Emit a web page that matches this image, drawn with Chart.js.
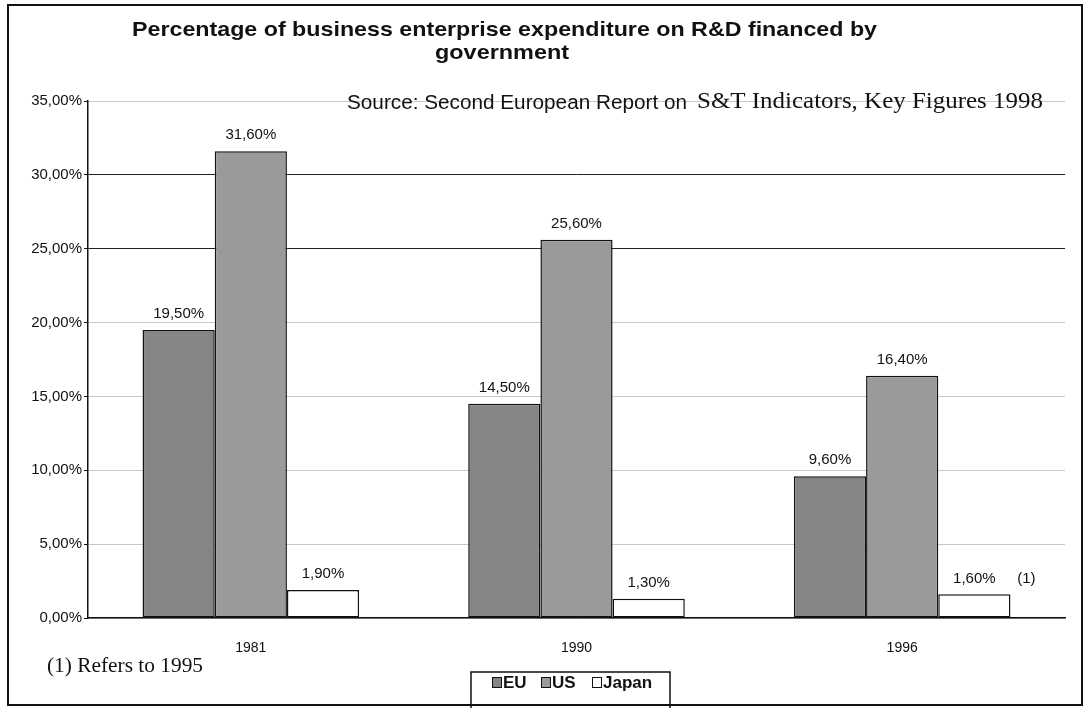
<!DOCTYPE html>
<html>
<head>
<meta charset="utf-8">
<script src="https://cdn.jsdelivr.net/npm/chart.js@4.4.0/dist/chart.umd.min.js"></script>
<style>
  html, body { margin: 0; padding: 0; background: #fff; }
  canvas { display: block; }
</style>
</head>
<body>
<canvas id="chart" width="1087" height="708"></canvas>
<script>
const CATEGORIES = ["1981", "1990", "1996"];
const EU = [19.5, 14.5, 9.6];
const US = [31.6, 25.6, 16.4];
const JAPAN = [1.9, 1.3, 1.6];
const Y_MAX = 35;
const Y_STEP = 5;

const TITLE_LINES = [
  "Percentage of business enterprise expenditure on R&D financed by",
  "government"
];
const SOURCE_SANS = "Source: Second European Report on";
const SOURCE_SERIF = "S&T Indicators, Key Figures 1998";
const FOOTNOTE = "(1) Refers to 1995";
const NOTE_MARK = "(1)";

const SANS = "'Liberation Sans', Arial, sans-serif";
const SERIF = "'Liberation Serif', 'Times New Roman', serif";

const fmt = v => v.toFixed(2).replace(".", ",") + "%";

// draw text squeezed/stretched to a given width, left aligned at x
function fitText(ctx, text, x, y, width) {
  const w = ctx.measureText(text).width;
  ctx.save();
  ctx.translate(x, y);
  ctx.scale(width / w, 1);
  ctx.textAlign = "left";
  ctx.fillText(text, 0, 0);
  ctx.restore();
}

const decor = {
  id: "decor",
  beforeDraw(chart) {
    const ctx = chart.ctx;
    ctx.save();
    ctx.fillStyle = "#fff";
    ctx.fillRect(0, 0, chart.width, chart.height);
    ctx.restore();
  },
  afterDraw(chart) {
    const ctx = chart.ctx;
    ctx.save();

    // outer frame
    ctx.strokeStyle = "#111";
    ctx.lineWidth = 2;
    ctx.strokeRect(8, 5, 1074, 700);

    // title
    ctx.fillStyle = "#111";
    ctx.textBaseline = "middle";
    ctx.font = "bold 21px " + SANS;
    fitText(ctx, TITLE_LINES[0], 132, 30, 745);
    fitText(ctx, TITLE_LINES[1], 435, 53, 134);

    // source line, mixed fonts
    ctx.font = "20px " + SANS;
    fitText(ctx, SOURCE_SANS, 347, 103, 340);
    ctx.font = "24px " + SERIF;
    fitText(ctx, SOURCE_SERIF, 697, 102, 346);

    // footnote
    ctx.font = "20px " + SERIF;
    fitText(ctx, FOOTNOTE, 47, 667, 156);

    // value labels
    ctx.font = "15px " + SANS;
    ctx.textAlign = "center";
    ctx.textBaseline = "middle";
    chart.data.datasets.forEach((ds, i) => {
      chart.getDatasetMeta(i).data.forEach((bar, j) => {
        ctx.fillText(fmt(ds.data[j]), bar.x, bar.y - 16);
      });
    });
    const jp = chart.getDatasetMeta(2).data[2];
    ctx.fillText(NOTE_MARK, jp.x + 52, jp.y - 16);

    // legend box
    ctx.lineWidth = 1.5;
    ctx.strokeStyle = "#111";
    ctx.beginPath();
    ctx.moveTo(471, 708);
    ctx.lineTo(471, 672);
    ctx.lineTo(670, 672);
    ctx.lineTo(670, 708);
    ctx.stroke();

    ctx.font = "bold 17px " + SANS;
    ctx.textAlign = "left";
    const swatchX = [492, 541, 592];
    chart.data.datasets.forEach((ds, i) => {
      const x = swatchX[i];
      ctx.fillStyle = ds.backgroundColor;
      ctx.fillRect(x, 677, 9, 10);
      ctx.lineWidth = 1;
      ctx.strokeRect(x + 0.5, 677.5, 9, 10);
      ctx.fillStyle = "#111";
      ctx.fillText(ds.label, x + 11, 683);
    });

    ctx.restore();
  }
};

new Chart(document.getElementById("chart"), {
  type: "bar",
  data: {
    labels: CATEGORIES,
    datasets: [
      { label: "EU", data: EU, backgroundColor: "#858585" },
      { label: "US", data: US, backgroundColor: "#9a9a9a" },
      { label: "Japan", data: JAPAN, backgroundColor: "#ffffff" }
    ].map(ds => Object.assign(ds, {
      borderColor: "#111",
      borderWidth: 1.5,
      borderSkipped: false,
      categoryPercentage: 0.665,
      barPercentage: 1.0
    }))
  },
  options: {
    responsive: false,
    animation: false,
    devicePixelRatio: 1,
    layout: { padding: { top: 101, left: 8, right: 22, bottom: 0 } },
    plugins: {
      legend: { display: false },
      title: { display: false },
      tooltip: { enabled: false }
    },
    scales: {
      x: {
        afterFit: s => { s.height = 90; },
        grid: { display: false },
        border: { color: "#111", width: 1.5 },
        ticks: { color: "#111", font: { family: SANS, size: 14 }, padding: 14 }
      },
      y: {
        min: 0,
        max: Y_MAX,
        afterFit: s => { s.width = 80; },
        border: { color: "#111", width: 1.5 },
        grid: {
          color: ctx => (ctx.tick && (ctx.tick.value === 25 || ctx.tick.value === 30)) ? "#222" : "#c8c8c8",
          lineWidth: 1,
          tickLength: 4,
          tickColor: "#111"
        },
        ticks: {
          stepSize: Y_STEP,
          color: "#111",
          font: { family: SANS, size: 15 },
          padding: 2,
          callback: v => fmt(v)
        }
      }
    }
  },
  plugins: [decor]
});
</script>
</body>
</html>
